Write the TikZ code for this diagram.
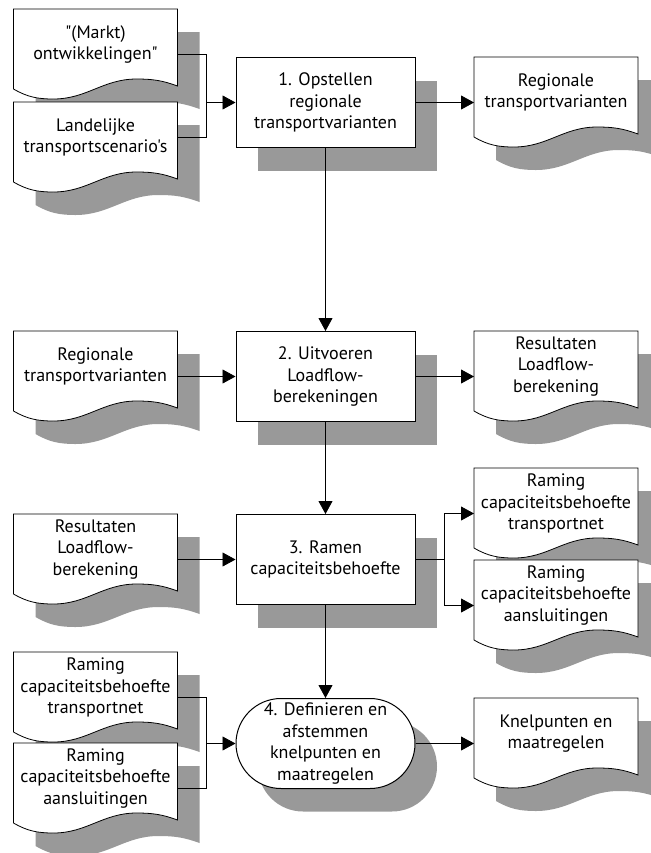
\documentclass[tikz,border=0pt]{standalone}
\usepackage{fontspec}
\setmainfont{PT Sans}[Ligatures=TeXOff]
\usepackage{tikz}
\usetikzlibrary{arrows.meta,calc,shapes.misc,shadows,backgrounds}
\definecolor{shadowgray}{HTML}{999999}

\newcommand\docpath[3]{($(#1.north west)+(#2,#3)$) -- ($(#1.north east)+(#2,#3)$)
  -- ($(#1.north east)+(#2,#3)+(0,77)$) to[out=160,in=0] ($(#1.north west)+(#2,#3)+(123,70)$)
  to[out=180,in=0] ($(#1.north west)+(#2,#3)+(40,90)$) to[out=180,in=-30] ($(#1.north west)+(#2,#3)+(0,80)$) -- cycle}
\newcommand\docframe[1]{%
  \begin{pgfonlayer}{background}
    \fill[shadowgray] \docpath{#1}{22}{23};
    \draw[fill=white] \docpath{#1}{0}{0};
  \end{pgfonlayer}}

\begin{document}
\begin{tikzpicture}[x=0.5pt, y=-0.5pt, line width=0.5pt,
    doc/.style={anchor=north, minimum width=81.5pt, minimum height=35pt, inner sep=0pt,
      align=center, font=\fontsize{9}{10.8}\selectfont},
    box/.style={anchor=north, draw, fill=white, minimum width=89.5pt, minimum height=45pt,
      inner sep=0pt, align=center, font=\fontsize{9}{10.8}\selectfont,
      drop shadow={shadow xshift=11pt, shadow yshift=-11.5pt, fill=shadowgray, opacity=1}},
    term/.style={box, rounded rectangle},
    arr/.style={-{Triangle[length=6.5pt,width=7pt]}}]
    \useasboundingbox (0,0) rectangle (650,853);

    % row 1
    \node[doc] (mo) at (95.5,9) {"(Markt)\\ontwikkelingen"};
    \node[doc] (ls) at (95.5,102) {Landelijke\\transportscenario's};
    \node[box] (b1) at (325.5,57) {1. Opstellen\\regionale\\transportvarianten};
    \node[doc] (rv1) at (556,57) {Regionale\\transportvarianten};
    % row 2
    \node[doc] (rv2) at (95.5,331) {Regionale\\transportvarianten};
    \node[box] (b2) at (325.5,331) {2. Uitvoeren\\Loadflow-\\berekeningen};
    \node[doc] (rl2) at (556,331) {Resultaten\\Loadflow-\\berekening};
    % row 3
    \node[doc] (rl3) at (95.5,514) {Resultaten\\Loadflow-\\berekening};
    \node[box] (b3) at (325.5,514) {3. Ramen\\capaciteitsbehoefte};
    \node[doc] (rt3) at (556,468) {Raming\\capaciteitsbehoefte\\transportnet};
    \node[doc] (ra3) at (556,560) {Raming\\capaciteitsbehoefte\\aansluitingen};
    % row 4
    \node[doc] (rt4) at (95.5,652) {Raming\\capaciteitsbehoefte\\transportnet};
    \node[doc] (ra4) at (95.5,743) {Raming\\capaciteitsbehoefte\\aansluitingen};
    \node[term] (b4) at (325.5,698) {4. Definieren en\\afstemmen\\knelpunten en\\maatregelen};
    \node[doc] (kp) at (556,698) {Knelpunten en\\maatregelen};

    \foreach \d in {mo,ls,rv1,rv2,rl2,rl3,rt3,ra3,rt4,ra4,kp}
        \docframe{\d};

    \coordinate (j1) at ($(b1.west)+(-29,0)$);
    \draw ([yshift=-5pt]mo.east) -| (j1) |- (ls.east);
    \draw[arr] (j1) -- (b1.west);
    \draw[arr] (b1.east) -- ([yshift=-5pt]rv1.west);
    \draw[arr] (b1.south) -- (b2.north);

    \draw[arr] ([yshift=-5pt]rv2.east) -- (b2.west);
    \draw[arr] (b2.east) -- ([yshift=-5pt]rl2.west);
    \draw[arr] (b2.south) -- (b3.north);

    \draw[arr] ([yshift=-5pt]rl3.east) -- (b3.west);
    \draw (b3.east) -- ++(29,0) coordinate (j3);
    \draw[arr] (j3) |- ([yshift=-5pt]rt3.west);
    \draw[arr] (j3) |- ([yshift=-5pt]ra3.west);
    \draw[arr] (b3.south) -- (b4.north);

    \coordinate (j4) at ($(b4.west)+(-29,0)$);
    \draw ([yshift=-5pt]rt4.east) -| (j4) |- ([yshift=-5pt]ra4.east);
    \draw[arr] (j4) -- (b4.west);
    \draw[arr] (b4.east) -- ([yshift=-5pt]kp.west);
\end{tikzpicture}
\end{document}
